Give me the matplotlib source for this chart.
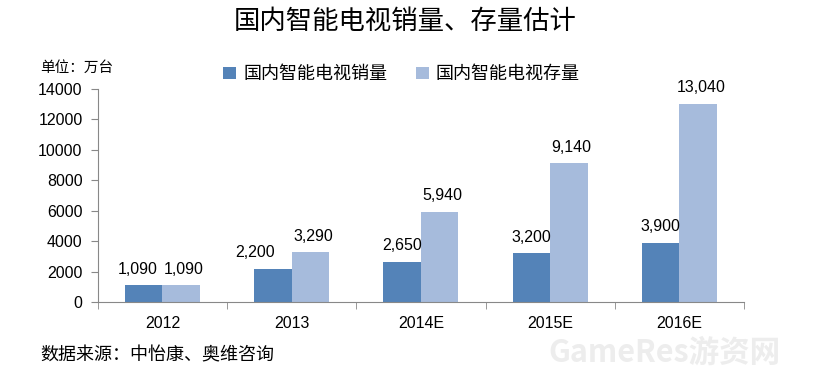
import matplotlib.pyplot as plt
import numpy as np

plt.rcParams['font.family'] = ['Noto Sans CJK SC', 'DejaVu Sans']

years = ['2012', '2013', '2014E', '2015E', '2016E']
sales = [1090, 2200, 2650, 3200, 3900]
stock = [1090, 3290, 5940, 9140, 13040]
yticks = [0, 2000, 4000, 6000, 8000, 10000, 12000, 14000]

c_sales = '#5483B8'
c_stock = '#A6BBDC'

fig = plt.figure(figsize=(8.36, 3.83), dpi=100)
ax = fig.add_axes([0.117, 0.2115, 0.773, 0.556])

x = np.arange(len(years))
w = 0.29
ax.bar(x - w / 2, sales, w, color=c_sales, label='国内智能电视销量')
ax.bar(x + w / 2, stock, w, color=c_stock, label='国内智能电视存量')

# small nudges so the first labels don't crowd each other
nudge = [-0.05, -0.14, 0, 0, 0]
for xi, v, d in zip(x, sales, nudge):
    ax.text(xi - w / 2 + d, v + 550, f'{v:,}', ha='center', va='bottom',
            fontsize=11.5, family='Liberation Sans')
for xi, v in zip(x, stock):
    ax.text(xi + w / 2 + 0.02, v + 550, f'{v:,}', ha='center', va='bottom',
            fontsize=11.5, family='Liberation Sans')

ax.set_xlim(-0.5, len(years) - 0.5)
ax.set_ylim(0, 14000)
ax.set_yticks(yticks)
ax.set_yticklabels([str(t) for t in yticks], family='Liberation Sans', fontsize=11.5)
ax.set_xticks(x)
ax.set_xticklabels(years, family='Liberation Sans', fontsize=11.5)
ax.set_xticks(np.arange(len(years) + 1) - 0.5, minor=True)
ax.tick_params(axis='x', which='major', length=0, pad=10)
ax.tick_params(axis='x', which='minor', length=5, color='#888888', direction='out')
ax.tick_params(axis='y', length=5, color='#888888', direction='out', pad=6)

for s in ['top', 'right']:
    ax.spines[s].set_visible(False)
for s in ['left', 'bottom']:
    ax.spines[s].set_color('#888888')

ax.legend(loc='center left', bbox_to_anchor=(0.183, 1.07), ncol=2, frameon=False,
          fontsize=13, handlelength=0.7, handleheight=0.7, columnspacing=1.6,
          handletextpad=0.4, borderaxespad=0)

fig.text(0.485, 0.943, '国内智能电视销量、存量估计', ha='center', va='center', fontsize=19)
fig.text(0.048, 0.822, '单位：万台', ha='left', va='center', fontsize=10.5)
fig.text(0.048, 0.073, '数据来源：中怡康、奥维咨询', ha='left', va='center', fontsize=13)
fig.text(0.795, 0.078, 'GameRes游资网', ha='center', va='center', fontsize=22,
         color='#EDEDED', fontweight='bold')

fig.savefig('out.png', dpi=100)
